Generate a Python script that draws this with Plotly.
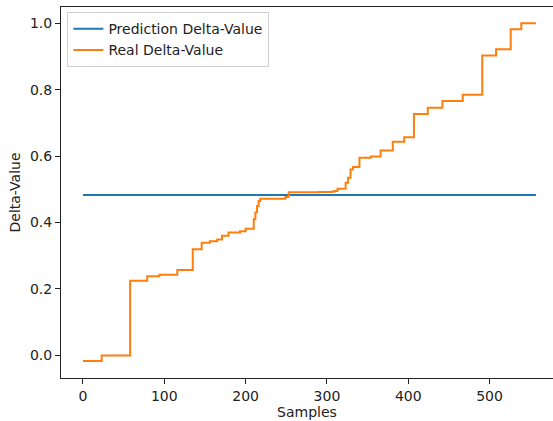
import plotly.graph_objects as go

# Real delta-value step breakpoints (sample index where the level starts, level value)
real_x = [0, 23, 58, 79, 94, 116, 135, 146, 156, 165, 171, 179, 193, 200, 210, 212,
          214, 216, 218, 249, 253, 290, 305, 309, 313, 323, 326, 329, 332, 340, 354,
          366, 381, 395, 407, 424, 442, 467, 491, 508, 526, 539, 557]
real_y = [-0.017, 0.0, 0.225, 0.238, 0.243, 0.257, 0.320, 0.339, 0.344, 0.349, 0.360,
          0.370, 0.374, 0.381, 0.410, 0.430, 0.450, 0.465, 0.472, 0.477, 0.491, 0.492,
          0.493, 0.495, 0.502, 0.520, 0.535, 0.560, 0.567, 0.595, 0.599, 0.617, 0.643,
          0.657, 0.727, 0.746, 0.766, 0.785, 0.903, 0.922, 0.982, 1.0, 1.0]

pred_x = [0, 557]
pred_y = [0.483, 0.483]

x_ticks = [0, 100, 200, 300, 400, 500]
y_ticks = [0.0, 0.2, 0.4, 0.6, 0.8, 1.0]
y_tick_text = ["0.0", "0.2", "0.4", "0.6", "0.8", "1.0"]

font = "DejaVu Sans"
fs = 14

fig = go.Figure()
fig.add_trace(go.Scatter(x=pred_x, y=pred_y, mode="lines", name="Prediction Delta-Value",
                         line=dict(color="#1f77b4", width=2)))
fig.add_trace(go.Scatter(x=real_x, y=real_y, mode="lines", name="Real Delta-Value",
                         line=dict(color="#ff7f0e", width=2, shape="hv")))

axis_common = dict(showgrid=False, zeroline=False, ticks="outside", ticklen=5,
                   tickwidth=1, tickcolor="#222", linecolor="#222", linewidth=1,
                   tickfont=dict(family=font, size=fs, color="#222"))

fig.update_xaxes(range=[-27, 578], tickvals=x_ticks, showline=True, mirror=True,
                 title=dict(text="Samples", font=dict(family=font, size=fs, color="#222"),
                            standoff=3),
                 **axis_common)
fig.update_yaxes(range=[-0.068, 1.049], tickvals=y_ticks, ticktext=y_tick_text,
                 showline=True, mirror=False,
                 title=dict(text="Delta-Value", font=dict(family=font, size=fs, color="#222"),
                            standoff=6),
                 **axis_common)

fig.update_layout(
    width=553, height=421,
    margin=dict(l=61, r=0, t=7, b=43),
    plot_bgcolor="white", paper_bgcolor="white",
    font=dict(family=font, size=fs, color="#222"),
    legend=dict(x=0.013, y=0.986, xanchor="left", yanchor="top",
                bgcolor="rgba(255,255,255,0.8)", bordercolor="#d0d0d0", borderwidth=1,
                font=dict(family=font, size=fs, color="#222"),
                tracegroupgap=0, itemwidth=30),
    showlegend=True,
)

fig.write_html("out.html", config={"displayModeBar": False},
               post_script="document.body.style.margin='0';document.body.style.overflow='hidden';")
